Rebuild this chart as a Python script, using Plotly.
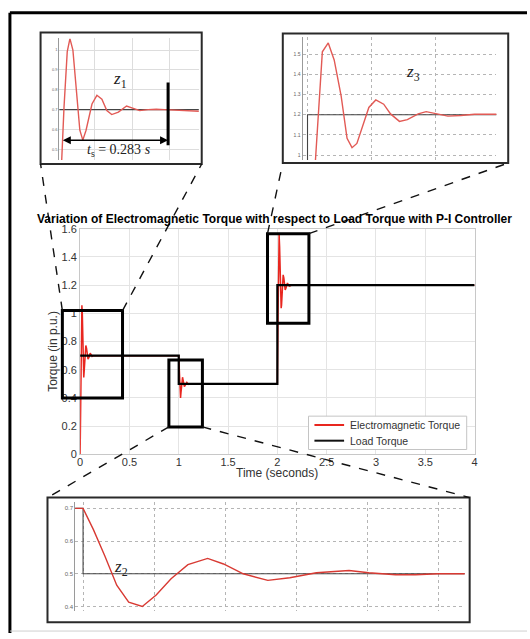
import plotly.graph_objects as go

W, H = 530, 639

# ---------------- data ----------------
load_time = [0.0, 1.0, 1.0, 2.0, 2.0, 4.0]
load_torque = [0.7, 0.7, 0.5, 0.5, 1.2, 1.2]

em_time_start = [0.0, 0.0056, 0.0091, 0.0139, 0.0179, 0.0223, 0.0271, 0.0326, 0.037, 0.0418,
                 0.0506, 0.0579, 0.0653, 0.0726, 0.0799, 0.0898, 0.1019, 0.1118, 0.1214, 0.1338,
                 0.1459, 0.1581]
em_torque_start = [0.0, 0.447, 0.711, 0.992, 1.058, 1.0, 0.794, 0.596, 0.546, 0.596,
                   0.728, 0.772, 0.752, 0.695, 0.675, 0.687, 0.718, 0.707, 0.695, 0.70,
                   0.702, 0.70]

em_time_step1 = [1.0, 1.0032, 1.0067, 1.0104, 1.0141, 1.0183, 1.0226, 1.0272, 1.0324, 1.0385,
                 1.0434, 1.0495, 1.0571, 1.0639, 1.0721, 1.0822, 1.0883, 1.0966, 1.1027, 1.1097]
em_torque_step1 = [0.70, 0.635, 0.555, 0.465, 0.413, 0.400, 0.435, 0.485, 0.528, 0.547,
                   0.53, 0.50, 0.48, 0.488, 0.503, 0.51, 0.503, 0.497, 0.497, 0.50]

em_time_step2 = [2.0, 2.0068, 2.0128, 2.0179, 2.023, 2.029, 2.0341, 2.0384, 2.0426, 2.0529,
                 2.0589, 2.0657, 2.0716, 2.0793, 2.0861, 2.0955, 2.1023, 2.1109, 2.1211, 2.1322,
                 2.1441]
em_torque_step2 = [0.5, 0.97, 1.511, 1.555, 1.471, 1.293, 1.083, 1.037, 1.058, 1.236,
                   1.273, 1.252, 1.204, 1.167, 1.176, 1.204, 1.215, 1.204, 1.193, 1.196,
                   1.202]

em_time_end = [4.0]
em_torque_end = [1.2]

em_time = em_time_start + em_time_step1 + em_time_step2 + em_time_end
em_torque = em_torque_start + em_torque_step1 + em_torque_step2 + em_torque_end

series_names = ["Electromagnetic Torque", "Load Torque"]

# zoom windows on main axes (time range, torque range)
zoom_boxes = {
    "z1": ([-0.18, 0.43], [0.40, 1.02]),
    "z2": ([0.90, 1.24], [0.195, 0.67]),
    "z3": ([1.90, 2.32], [0.93, 1.565]),
}

# inset view windows (time range, torque range)
z1_view = ([0.0022, 0.209], [0.4455, 1.059])
z3_view = ([1.99574, 2.16287], [0.9757, 1.5825])
z2_view = ([0.99756, 1.11795], [0.385, 0.721])

settling_time = 0.283
ts_marker = [0.0051, 0.1635]   # arrow span inside z1 (start of transient -> settling marker)

# ---------------- geometry helpers ----------------
def px(x):
    return x / W

def py(y):
    return 1 - y / H

MX0, MX1 = 78, 477   # pixel positions of t=0 and t=4
MY0, MY1 = 457, 227  # pixel positions of T=0 and T=1.6

def main_x(t):
    return px(MX0 + t / 4.0 * (MX1 - MX0))

def main_y(v):
    return py(MY0 - v / 1.6 * (MY0 - MY1))

FONT = "Liberation Sans"
SERIF = "Liberation Serif"
RED = "#e8261f"
RED_IN = "#e25a55"

fig = go.Figure()

# main traces
fig.add_trace(go.Scatter(x=em_time, y=em_torque, mode="lines", name=series_names[0],
                         line=dict(color=RED, width=1.5), xaxis="x", yaxis="y", showlegend=False))
fig.add_trace(go.Scatter(x=load_time, y=load_torque, mode="lines", name=series_names[1],
                         line=dict(color="#000000", width=2.2), xaxis="x", yaxis="y", showlegend=False))

# inset traces
for ax, rc in (("2", RED_IN), ("3", RED_IN), ("4", "#d83a33")):
    fig.add_trace(go.Scatter(x=load_time, y=load_torque, mode="lines", showlegend=False,
                             line=dict(color="#444444", width=1.1), xaxis="x" + ax, yaxis="y" + ax,
                             hoverinfo="skip"))
    fig.add_trace(go.Scatter(x=em_time, y=em_torque, mode="lines", showlegend=False,
                             line=dict(color=rc, width=1.4), xaxis="x" + ax, yaxis="y" + ax,
                             hoverinfo="skip"))

main_ax = dict(showgrid=True, gridcolor="#e4e4e4", gridwidth=1, zeroline=False,
               showline=True, linecolor="#c8c8c8", mirror=True, ticks="",
               tickfont=dict(family=FONT, size=11, color="#333333"))

inset_y = dict(showgrid=True, zeroline=False, showline=True, linecolor="#9a9a9a",
               ticks="", tickfont=dict(family=FONT, size=5, color="#666666"), dtick=0.1)
inset_x = dict(showgrid=True, zeroline=False, showline=False, showticklabels=False, ticks="")

fig.update_layout(
    width=W, height=H, autosize=False,
    margin=dict(l=0, r=0, t=0, b=0),
    paper_bgcolor="white", plot_bgcolor="white",
    font=dict(family=FONT, color="#333333"),
    showlegend=False,
    xaxis=dict(main_ax, domain=[px(MX0), px(MX1)], range=[0, 4], dtick=0.5, anchor="y",
               ticklabelstandoff=-3),
    yaxis=dict(main_ax, domain=[py(MY0), py(MY1)], range=[0, 1.6], dtick=0.2, anchor="x"),
    # z1 inset
    xaxis2=dict(inset_x, domain=[px(57), px(198)], range=z1_view[0],
                tickvals=[0.055, 0.11, 0.165], gridcolor="#dddddd", anchor="y2"),
    yaxis2=dict(inset_y, domain=[py(157), py(33)], range=z1_view[1],
                gridcolor="#dddddd", tickfont=dict(family=FONT, size=4, color="#666666"), anchor="x2"),
    # z3 inset
    xaxis3=dict(inset_x, domain=[px(303), px(499)], range=z3_view[0],
                tickvals=[2.0, 2.055, 2.11], gridcolor="#b5b5b5", griddash="dot", anchor="y3"),
    yaxis3=dict(inset_y, domain=[py(157), py(32)], range=z3_view[1],
                gridcolor="#b5b5b5", griddash="dot", anchor="x3"),
    # z2 inset
    xaxis4=dict(inset_x, domain=[px(73), px(467)], range=z2_view[0],
                tickvals=[1.0, 1.022, 1.044, 1.066, 1.088, 1.11], gridcolor="#b5b5b5", griddash="dot",
                anchor="y4"),
    yaxis4=dict(inset_y, domain=[py(617), py(505)], range=z2_view[1],
                gridcolor="#b5b5b5", griddash="dot",
                tickfont=dict(family=FONT, size=6, color="#666666"), anchor="x4"),
)

shapes = []
# outer frame
shapes.append(dict(type="line", xref="paper", yref="paper", x0=px(7), y0=py(7), x1=px(7), y1=py(639),
                   line=dict(color="black", width=3)))
shapes.append(dict(type="line", xref="paper", yref="paper", x0=px(7), y0=py(7), x1=px(530), y1=py(7),
                   line=dict(color="black", width=3)))
shapes.append(dict(type="line", xref="paper", yref="paper", x0=px(7), y0=py(637), x1=px(530), y1=py(637),
                   line=dict(color="#cfcfcf", width=1)))

# inset frames
frames = {"z1": (38, 27, 201, 161), "z3": (283, 28, 511, 160), "z2": (45, 501, 472, 628)}
for k, (x0, y0, x1, y1) in frames.items():
    shapes.append(dict(type="rect", xref="paper", yref="paper", x0=px(x0), y0=py(y0), x1=px(x1), y1=py(y1),
                       line=dict(color="#2a2a2a", width=2)))

# zoom boxes on main plot
for k, (tr, vr) in zoom_boxes.items():
    shapes.append(dict(type="rect", xref="paper", yref="paper",
                       x0=main_x(tr[0]), x1=main_x(tr[1]), y0=main_y(vr[0]), y1=main_y(vr[1]),
                       line=dict(color="black", width=3)))

# dashed connectors
dash = dict(color="#111111", width=1.4, dash="dash")
conn = [
    (zoom_boxes["z1"][0][0], zoom_boxes["z1"][1][1], 38, 161),
    (zoom_boxes["z1"][0][1], zoom_boxes["z1"][1][1], 201, 161),
    (zoom_boxes["z3"][0][0], zoom_boxes["z3"][1][1], 283, 160),
    (zoom_boxes["z3"][0][1], zoom_boxes["z3"][1][1], 511, 160),
    (zoom_boxes["z2"][0][0], zoom_boxes["z2"][1][0], 45, 501),
    (zoom_boxes["z2"][0][1], zoom_boxes["z2"][1][0], 472, 501),
]
for t, v, qx, qy in conn:
    shapes.append(dict(type="line", xref="paper", yref="paper", x0=main_x(t), y0=main_y(v),
                       x1=px(qx), y1=py(qy), line=dash))

# settling-time marker in z1
shapes.append(dict(type="line", xref="x2", yref="y2", x0=ts_marker[1], x1=ts_marker[1], y0=0.52, y1=0.837,
                   line=dict(color="black", width=3)))

# manual legend
shapes.append(dict(type="rect", xref="paper", yref="paper", x0=px(309), x1=px(469), y0=py(418), y1=py(452),
                   line=dict(color="#c4c4c4", width=1), fillcolor="white"))
shapes.append(dict(type="line", xref="paper", yref="paper", x0=px(315), x1=px(345), y0=py(427), y1=py(427),
                   line=dict(color=RED, width=2)))
shapes.append(dict(type="line", xref="paper", yref="paper", x0=px(315), x1=px(345), y0=py(443), y1=py(443),
                   line=dict(color="#111111", width=2)))

fig.update_layout(shapes=shapes)

ann = []
ann.append(dict(x=ts_marker[1], y=0.545, ax=ts_marker[0], ay=0.545, xref="x2", yref="y2",
                axref="x2", ayref="y2",
                text="", showarrow=True, arrowhead=2, arrowside="end+start", arrowsize=1,
                arrowwidth=1.6, arrowcolor="black"))
ann.append(dict(x=0.0902, y=0.495, xref="x2", yref="y2", showarrow=False,
                xanchor="center", yanchor="middle",
                text="<i>t</i><sub>s</sub> = %.3f <i>s</i>" % settling_time,
                font=dict(family=SERIF, size=14, color="#222222")))
ann.append(dict(x=0.0917, y=0.851, xref="x2", yref="y2", showarrow=False,
                xanchor="center", yanchor="middle",
                text="<i>z</i><sub>1</sub>", font=dict(family=SERIF, size=17, color="#222222")))
ann.append(dict(x=2.0912, y=1.408, xref="x3", yref="y3", showarrow=False,
                xanchor="center", yanchor="middle",
                text="<i>z</i><sub>3</sub>", font=dict(family=SERIF, size=17, color="#222222")))
ann.append(dict(x=1.0116, y=0.517, xref="x4", yref="y4", showarrow=False,
                xanchor="center", yanchor="middle",
                text="<i>z</i><sub>2</sub>", font=dict(family=SERIF, size=17, color="#222222")))
ann.append(dict(x=px(275), y=py(217), xref="paper", yref="paper", showarrow=False,
                xanchor="center", yanchor="middle",
                text="<b>Variation of Electromagnetic Torque with respect to Load Torque with P-I Controller</b>",
                font=dict(family=FONT, size=12, color="black")))
ann.append(dict(x=px(277), y=py(476), xref="paper", yref="paper", showarrow=False,
                xanchor="center", yanchor="middle",
                text="Time (seconds)", font=dict(family=FONT, size=12, color="#333333")))
ann.append(dict(x=px(51), y=py(352), xref="paper", yref="paper", showarrow=False, textangle=-90,
                xanchor="center", yanchor="middle",
                text="Torque (in p.u.)", font=dict(family=FONT, size=12, color="#333333")))
for name, yy in zip(series_names, (427, 443)):
    ann.append(dict(x=px(349), y=py(yy), xref="paper", yref="paper", showarrow=False,
                    xanchor="left", yanchor="middle", text=name,
                    font=dict(family=FONT, size=10.5, color="#333333")))
fig.update_layout(annotations=ann)

fig.write_html("out.html", config={"displayModeBar": False},
               post_script="document.body.style.margin='0';document.body.style.overflow='hidden';")
